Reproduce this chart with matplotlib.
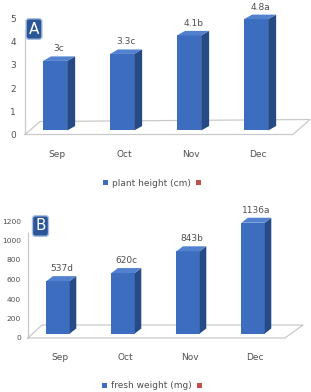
import matplotlib.pyplot as plt
from matplotlib.patches import Polygon, Patch
from matplotlib.transforms import ScaledTranslation

months = ['Sep', 'Oct', 'Nov', 'Dec']
height = [3.0, 3.3, 4.1, 4.8]
height_labels = ['3c', '3.3c', '4.1b', '4.8a']
weight = [537, 620, 843, 1136]
weight_labels = ['537d', '620c', '843b', '1136a']

W, H = 311, 392
FRONT = '#3d6dbf'
SIDE = '#264a85'
TOP = '#5282cf'
GRID = '#c9c9c9'
TXT = '#505050'

fig = plt.figure(figsize=(W / 100, H / 100), dpi=100)


def px_axes(left, right, top, bottom):
    # axes rectangle from pixel coords
    return fig.add_axes([left / W, 1 - bottom / H, (right - left) / W, (bottom - top) / H])


def bar_panel(ax, vals, labels, ymax, yticks, xlim, lift, dx, dy, floor, legend_text, legend_y, ypad, ysize):
    ax.set_xlim(*xlim)
    ax.set_ylim(0, ymax)
    x = range(len(vals))
    # pixel -> data scale
    sx = (xlim[1] - xlim[0]) / (ax.get_position().width * W)
    sy = ymax / (ax.get_position().height * H)
    off = ax.transData + ScaledTranslation(1.5 / 72, lift * 0.72 / 72, fig.dpi_scale_trans)
    w = 0.36
    bars = ax.bar(x, vals, width=w, color=FRONT, zorder=3, clip_on=False)
    for b in bars:
        b.set_transform(off)
    ddx, ddy = dx * sx, dy * sy
    for i, v in enumerate(vals):
        l, r = i - w / 2, i + w / 2
        side = Polygon([(r, 0), (r + ddx, ddy), (r + ddx, v + ddy), (r, v)],
                       closed=True, facecolor=SIDE, edgecolor='none', transform=off, zorder=3,
                       clip_on=False)
        top = Polygon([(l, v), (r, v), (r + ddx, v + ddy), (l + ddx, v + ddy)],
                      closed=True, facecolor=TOP, edgecolor='none', transform=off, zorder=3,
                      clip_on=False)
        ax.add_patch(side)
        ax.add_patch(top)
        ax.text(i + ddx / 2, v + ddy + 3 * sy, labels[i], ha='center', va='bottom',
                fontsize=6.5, color=TXT, transform=off, zorder=4)
    # floor and left axis line
    fl, fr, bl, br = floor
    ax.plot([xlim[0], xlim[1], xlim[1] + br[0] * sx, xlim[0] + bl[0] * sx, xlim[0]],
            [0, 0, br[1] * sy, bl[1] * sy, 0], color=GRID, lw=0.9, clip_on=False, zorder=1)
    ax.plot([xlim[0], xlim[0]], [0, ymax * 0.9], color=GRID, lw=0.9, clip_on=False, zorder=1)
    for s in ax.spines.values():
        s.set_visible(False)
    ax.set_yticks(yticks)
    ax.set_xticks(list(x))
    ax.set_xticklabels(months)
    ax.tick_params(axis='y', length=0, pad=ypad, labelsize=ysize, labelcolor=TXT)
    ax.tick_params(axis='x', length=0, pad=11, labelsize=6.5, labelcolor=TXT)
    for t in ax.get_xticklabels():
        t.set_transform(t.get_transform() + ScaledTranslation(4 / 100, 0, fig.dpi_scale_trans))
    handles = [Patch(facecolor=FRONT, label=legend_text), Patch(facecolor='#c0504d', label=' ')]
    fig.legend(handles=handles, loc='center', bbox_to_anchor=(0.5, 1 - legend_y / H), ncol=2,
               frameon=False, fontsize=6.5, handlelength=0.55, handleheight=0.55,
               handletextpad=0.4, columnspacing=0.6, labelcolor=TXT)


# panel A
axA = px_axes(25, 293, 18.5, 134.5)
bar_panel(axA, height, height_labels, 5, range(0, 6), (-0.418, 3.582), 4, 8, 4.5,
          [(0, 0), (0, 0), (15, 13), (17, 15)], 'plant height (cm)', 183, 6.5, 6.5)

# panel B
axB = px_axes(28, 285, 221, 338)
bar_panel(axB, weight, weight_labels, 1200, range(0, 1201, 200), (-0.431, 3.523), 4.5, 6.5, 5,
          [(0, 0), (0, 0), (14, 13), (18, 13)], 'fresh weight (mg)', 386, 5, 5.4)

# panel tags
for tag, xc, yc in [('A', 34, 29), ('B', 40.5, 226)]:
    fig.text(xc / W, 1 - yc / H, tag, ha='center', va='center', fontsize=11, color='white',
             bbox=dict(boxstyle='round,pad=0.18', facecolor='#2a5597', edgecolor='#a9c0e4', lw=1))

fig.savefig('out.png', dpi=100)
